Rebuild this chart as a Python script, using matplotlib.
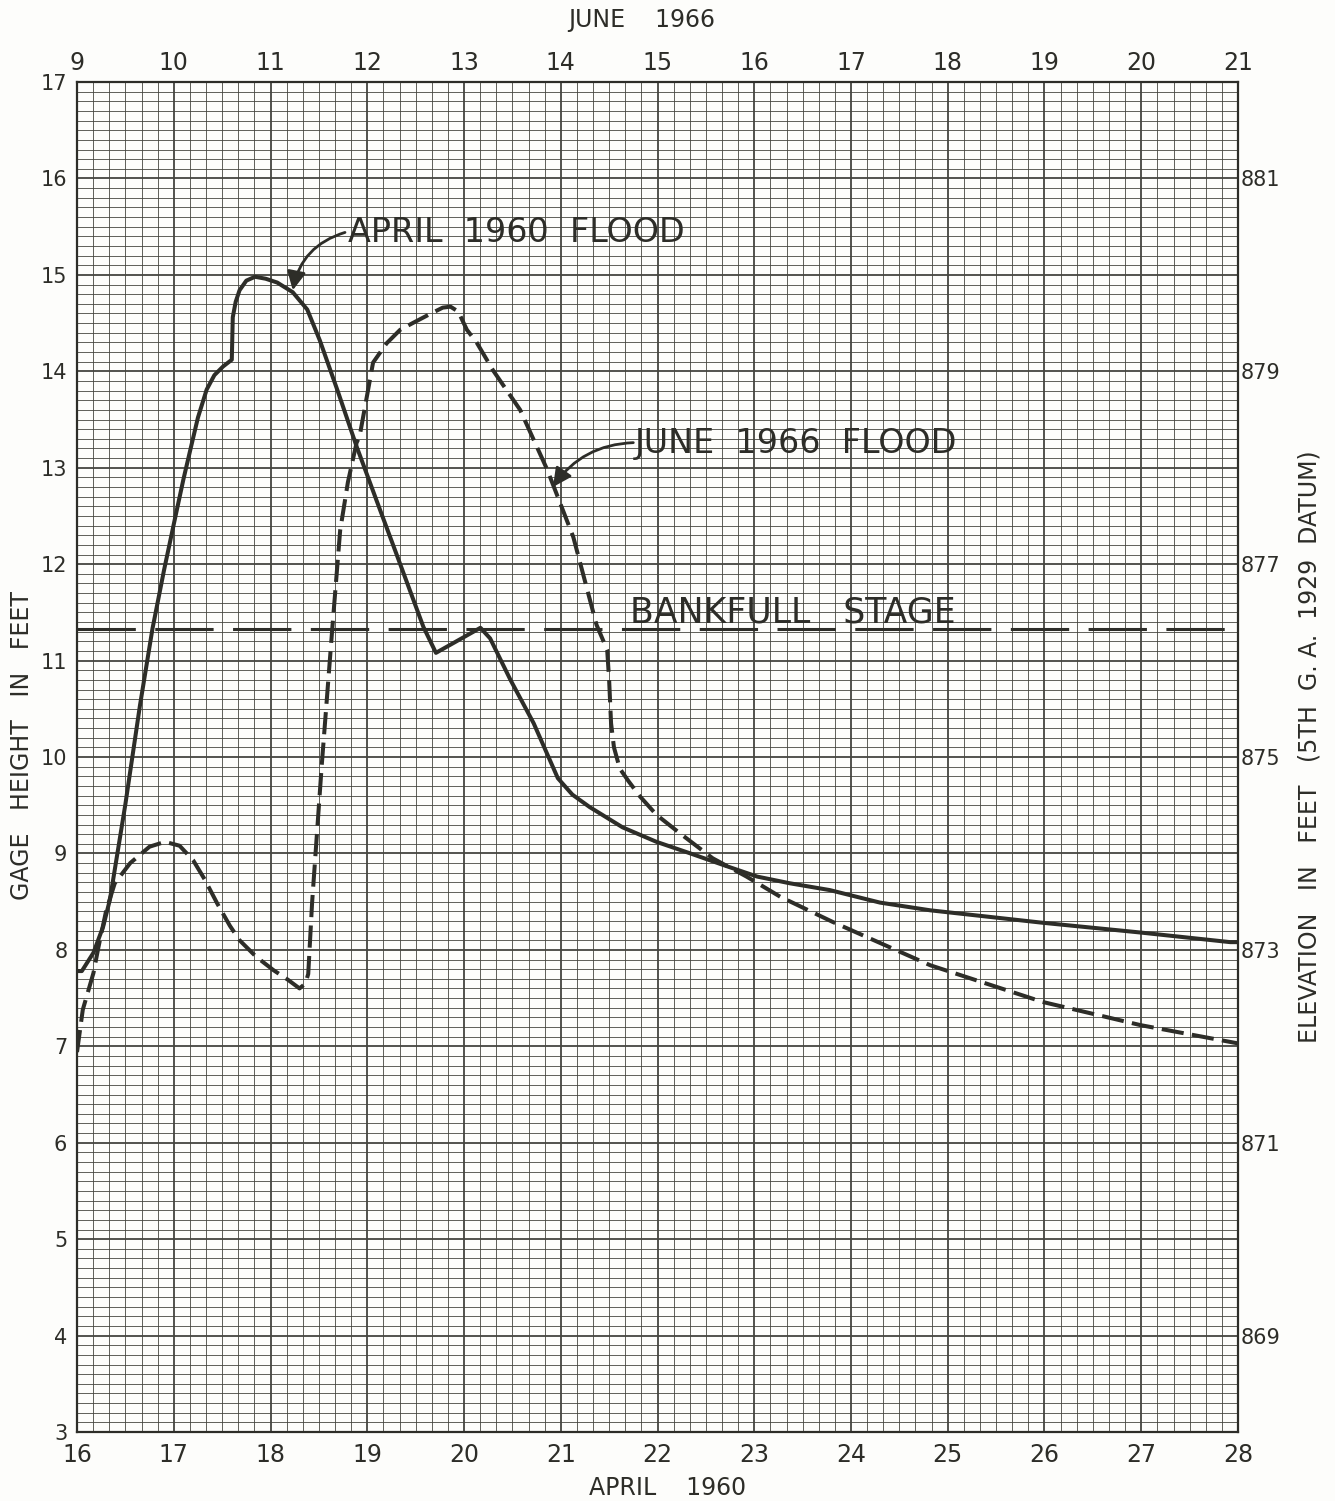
import numpy as np
from matplotlib import pyplot as plt
from matplotlib.ticker import MultipleLocator

plt.rcParams['font.family'] = ['DejaVu Sans']
plt.rcParams['lines.scale_dashes'] = False

ink = "#2d2d28"
grid_ink = "#45453f"

# April 1960 flood (solid), day of April vs gage height (ft)
april_day = [16.00, 16.05, 16.17, 16.27, 16.34, 16.50, 16.65, 16.78, 16.90, 17.01,
             17.10, 17.17, 17.25, 17.34, 17.42, 17.51, 17.60, 17.61, 17.64, 17.68,
             17.75, 17.84, 17.95, 18.07, 18.23, 18.38, 18.51, 18.70, 18.89, 19.10,
             19.30, 19.58, 19.71, 20.17, 20.27, 20.48, 20.72, 20.97, 21.12, 21.30,
             21.64, 21.99, 22.34, 22.68, 23.03, 23.37, 23.78, 24.30, 24.82, 25.99,
             26.99, 27.92, 28.00]
april_stage = [7.78, 7.78, 7.97, 8.24, 8.52, 9.51, 10.53, 11.33, 11.94, 12.46,
               12.88, 13.18, 13.52, 13.81, 13.96, 14.05, 14.12, 14.56, 14.72, 14.84,
               14.94, 14.98, 14.96, 14.92, 14.82, 14.64, 14.32, 13.78, 13.22, 12.65,
               12.11, 11.35, 11.08, 11.34, 11.23, 10.80, 10.35, 9.78, 9.61, 9.48,
               9.27, 9.12, 9.00, 8.88, 8.76, 8.69, 8.62, 8.49, 8.41, 8.28,
               8.18, 8.08, 8.08]

# June 1966 flood (dashed), day of June vs gage height (ft)
june_day = [9.00, 9.06, 9.17, 9.22, 9.30, 9.39, 9.55, 9.75, 9.91, 10.06,
            10.20, 10.32, 10.45, 10.58, 10.68, 10.85, 11.03, 11.18, 11.30, 11.36,
            11.39, 11.43, 11.53, 11.64, 11.72, 11.80, 11.89, 11.92, 12.06, 12.20,
            12.34, 12.47, 12.66, 12.78, 12.86, 12.94, 13.03, 13.13, 13.30, 13.58,
            13.86, 14.13, 14.37, 14.48, 14.50, 14.52, 14.55, 14.61, 14.70, 14.82,
            14.99, 15.23, 15.57, 15.92, 16.27, 16.81, 17.82, 18.98, 19.99, 21.00]
june_stage = [6.94, 7.38, 7.76, 8.02, 8.40, 8.69, 8.90, 9.07, 9.12, 9.08,
              8.93, 8.73, 8.48, 8.25, 8.10, 7.93, 7.79, 7.69, 7.60, 7.65,
              7.75, 8.49, 9.92, 11.35, 12.35, 12.85, 13.26, 13.32, 14.09, 14.29,
              14.43, 14.50, 14.60, 14.66, 14.67, 14.62, 14.43, 14.30, 14.01, 13.60,
              12.98, 12.28, 11.37, 11.11, 10.80, 10.35, 10.10, 9.88, 9.75, 9.59,
              9.40, 9.21, 8.95, 8.76, 8.55, 8.29, 7.84, 7.46, 7.22, 7.03]

bankfull = 11.33
day_shift = 7          # June 1966 day = April 1960 day - 7
datum_offset = 865     # elevation = gage height + 865

april_ticks = list(range(16, 29))
june_ticks = list(range(9, 22))
gage_ticks = list(range(3, 18))
elev_ticks = list(range(869, 882, 2))

W, H = 1335, 1501
fig = plt.figure(figsize=(W / 100, H / 100), dpi=100)
fig.patch.set_facecolor("#fdfdfb")
ax = fig.add_axes([77 / W, 1 - 1432 / H, (1238 - 77) / W, (1432 - 82) / H])
ax.set_facecolor("#fdfdfb")

ax.set_xlim(16, 28)
ax.set_ylim(3, 17)
ax.set_xticks(april_ticks)
ax.set_yticks(gage_ticks)
ax.xaxis.set_minor_locator(MultipleLocator(1 / 6))
ax.yaxis.set_minor_locator(MultipleLocator(0.1))
ax.grid(which='major', color=grid_ink, lw=1.3)
ax.grid(which='minor', color=grid_ink, lw=0.6)
ax.set_axisbelow(True)
ax.tick_params(which='both', length=0)
ax.tick_params(axis='x', labelsize=17, pad=8, colors=ink)
ax.tick_params(axis='y', labelsize=15, pad=7, colors=ink)
for s in ax.spines.values():
    s.set_color(ink)
    s.set_linewidth(1.6)

# curves
ax.plot(april_day, april_stage, color=ink, lw=2.9, solid_capstyle='round',
        solid_joinstyle='round', zorder=4)
june_x = np.array(june_day) + day_shift
ax.plot(june_x, june_stage, color=ink, lw=2.9, dashes=(16, 6), zorder=4)
ax.axhline(bankfull, color=ink, lw=2.2, dashes=(42, 14), zorder=3)

# top axis (June 1966)
secx = ax.secondary_xaxis('top', functions=(lambda x: x - day_shift, lambda x: x + day_shift))
secx.set_xticks(june_ticks)
secx.tick_params(length=0, labelsize=17, pad=5, colors=ink)
secx.spines['top'].set_visible(False)

# right axis (elevation)
secy = ax.secondary_yaxis('right', functions=(lambda y: y + datum_offset, lambda y: y - datum_offset))
secy.set_yticks(elev_ticks)
secy.tick_params(length=0, labelsize=15, pad=2, colors=ink)
secy.spines['right'].set_visible(False)

# annotations
txt = dict(color=ink, fontsize=24, ha='left', va='center', zorder=6)
ax.text(18.80, 15.44, "APRIL  1960  FLOOD", **txt)
ax.text(21.76, 13.25, "JUNE  1966  FLOOD", **txt)
ax.text(21.72, 11.50, "BANKFULL   STAGE", fontsize=25,
        **{k: v for k, v in txt.items() if k != 'fontsize'})
arrow = dict(arrowstyle='-|>', color=ink, lw=2.0, mutation_scale=28,
             shrinkA=0, shrinkB=0)
ax.annotate('', xy=(18.23, 14.84), xytext=(18.77, 15.44),
            arrowprops=dict(connectionstyle='arc3,rad=0.3', **arrow), zorder=6)
ax.annotate('', xy=(20.92, 12.80), xytext=(21.75, 13.26),
            arrowprops=dict(connectionstyle='arc3,rad=0.25', **arrow), zorder=6)

# axis titles
fig.text(642 / W, 1 - 20 / H, "JUNE    1966", color=ink, fontsize=17,
         ha='center', va='center')
fig.text(668 / W, 1 - 1488 / H, "APRIL    1960", color=ink, fontsize=17,
         ha='center', va='center')
fig.text(22 / W, 1 - 745 / H, "GAGE   HEIGHT   IN   FEET", color=ink, fontsize=17,
         rotation=90, ha='center', va='center')
fig.text(1310 / W, 1 - 747 / H, "ELEVATION   IN   FEET   (5TH  G. A.  1929  DATUM)",
         color=ink, fontsize=17, rotation=90, ha='center', va='center')

fig.savefig("out.png", dpi=100, facecolor=fig.get_facecolor())
